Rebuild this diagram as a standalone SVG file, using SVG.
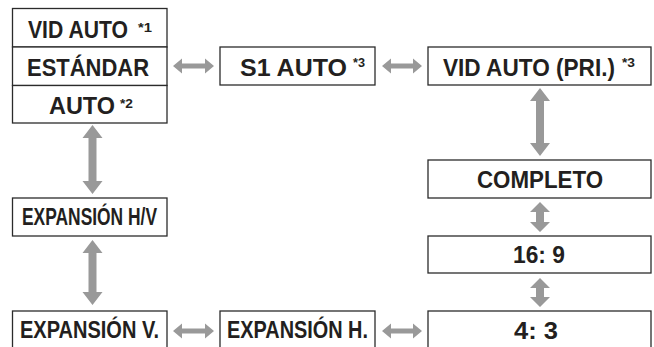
<svg xmlns="http://www.w3.org/2000/svg" width="654" height="347" viewBox="0 0 654 347">
<style>
.box{fill:#fff;stroke:#2b2b2b;stroke-width:1.3}
.t{font-family:"Liberation Sans",Arial,sans-serif;font-weight:bold;font-size:23px;fill:#231f20}
.s{font-family:"Liberation Sans",Arial,sans-serif;font-weight:bold;font-size:13px;fill:#231f20}
.arr{fill:#999999}
</style>
<rect width="654" height="347" fill="#fff"/>
<g id="connectors">
<polygon class="arr" points="173,66 182,58.5 182,63.5 205,63.5 205,58.5 214,66 205,73.5 205,68.5 182,68.5 182,73.5"/>
<polygon class="arr" points="382,66 391,58.5 391,63.5 413,63.5 413,58.5 422,66 413,73.5 413,68.5 391,68.5 391,73.5"/>
<polygon class="arr" points="173,331 182,323.5 182,328.5 205,328.5 205,323.5 214,331 205,338.5 205,333.5 182,333.5 182,338.5"/>
<polygon class="arr" points="382,331 391,323.5 391,328.5 413,328.5 413,323.5 422,331 413,338.5 413,333.5 391,333.5 391,338.5"/>
<polygon class="arr" points="92.5,125 102.5,138 96.5,138 96.5,181 102.5,181 92.5,194 82.5,181 88.5,181 88.5,138 82.5,138"/>
<polygon class="arr" points="92.5,240 102.5,253 96.5,253 96.5,292 102.5,292 92.5,305 82.5,292 88.5,292 88.5,253 82.5,253"/>
<polygon class="arr" points="540,88 550,101 544,101 544,143 550,143 540,156 530,143 536,143 536,101 530,101"/>
<polygon class="arr" points="540,202 550,212 544,212 544,222 550,222 540,232 530,222 536,222 536,212 530,212"/>
<polygon class="arr" points="540,278 550,288 544,288 544,297 550,297 540,307 530,297 536,297 536,288 530,288"/>
</g>
<g id="vid-auto">
<rect class="box" x="12.5" y="8.5" width="154.5" height="38.5"/>
<text class="t" x="28" y="37.5" textLength="100" lengthAdjust="spacingAndGlyphs">VID AUTO</text>
<text class="s" x="138" y="31.5" textLength="14" lengthAdjust="spacingAndGlyphs">*1</text>
</g>
<g id="estandar">
<rect class="box" x="12.5" y="47" width="154.5" height="38.5"/>
<text class="t" x="27" y="75.5" textLength="122" lengthAdjust="spacingAndGlyphs">ESTÁNDAR</text>
</g>
<g id="auto">
<rect class="box" x="12.5" y="85.5" width="154.5" height="37.5"/>
<text class="t" x="49" y="113.5" textLength="66" lengthAdjust="spacingAndGlyphs">AUTO</text>
<text class="s" x="120" y="107.5" textLength="13" lengthAdjust="spacingAndGlyphs">*2</text>
</g>
<g id="s1-auto">
<rect class="box" x="220" y="47" width="155" height="38"/>
<text class="t" x="240" y="75.5" textLength="107" lengthAdjust="spacingAndGlyphs">S1 AUTO</text>
<text class="s" x="353" y="67" textLength="12" lengthAdjust="spacingAndGlyphs">*3</text>
</g>
<g id="vid-auto-pri">
<rect class="box" x="428" y="47" width="223" height="38"/>
<text class="t" x="443" y="75.5" textLength="172" lengthAdjust="spacingAndGlyphs">VID AUTO (PRI.)</text>
<text class="s" x="622" y="67" textLength="13" lengthAdjust="spacingAndGlyphs">*3</text>
</g>
<g id="completo">
<rect class="box" x="428" y="160" width="223" height="38"/>
<text class="t" x="477" y="187.5" textLength="126" lengthAdjust="spacingAndGlyphs">COMPLETO</text>
</g>
<g id="r16-9">
<rect class="box" x="428" y="236" width="223" height="37"/>
<text class="t" x="513" y="262.5" textLength="52" lengthAdjust="spacingAndGlyphs">16: 9</text>
</g>
<g id="r4-3">
<rect class="box" x="428" y="311" width="223" height="40"/>
<text class="t" x="514" y="338.5" textLength="44" lengthAdjust="spacingAndGlyphs">4: 3</text>
</g>
<g id="expansion-hv">
<rect class="box" x="12.5" y="198" width="154.5" height="38"/>
<text class="t" x="22" y="224.5" textLength="135" lengthAdjust="spacingAndGlyphs">EXPANSIÓN H/V</text>
</g>
<g id="expansion-v">
<rect class="box" x="12.5" y="311" width="154.5" height="40"/>
<text class="t" x="20" y="337.5" textLength="139" lengthAdjust="spacingAndGlyphs">EXPANSIÓN V.</text>
</g>
<g id="expansion-h">
<rect class="box" x="220" y="311" width="155" height="40"/>
<text class="t" x="227" y="337.5" textLength="141" lengthAdjust="spacingAndGlyphs">EXPANSIÓN H.</text>
</g>
</svg>
